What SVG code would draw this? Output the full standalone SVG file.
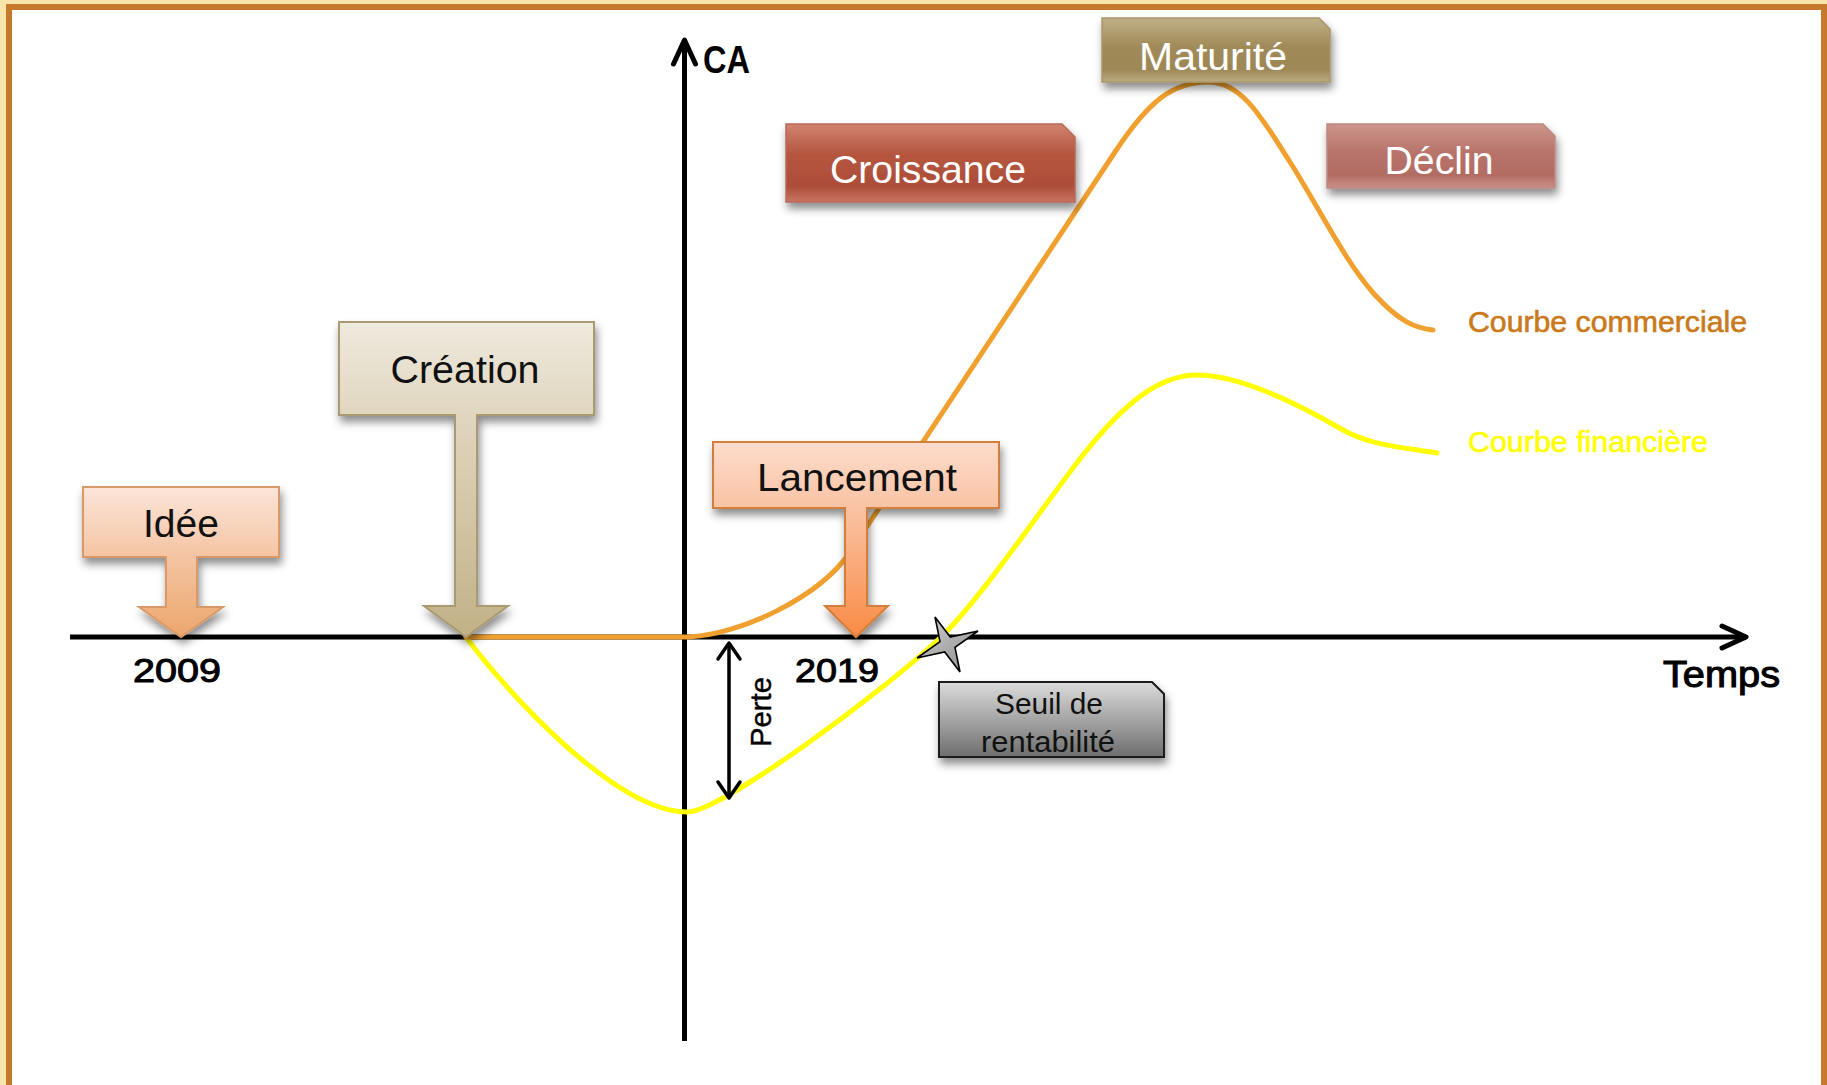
<svg xmlns="http://www.w3.org/2000/svg" width="1827" height="1085" viewBox="0 0 1827 1085">
<style>
text{font-family:"Liberation Sans",Arial,sans-serif;}
.lbl{font-size:39px;fill:#111;text-anchor:middle;}
.wlbl{font-size:39px;fill:#fff;text-anchor:middle;}
.ax{fill:none;stroke:#000;stroke-width:5;}
.crv{fill:none;stroke-width:5;stroke-linecap:round;stroke-linejoin:round;}
.yr{font-size:34px;fill:#000;stroke:#000;stroke-width:1;text-anchor:middle;}
</style>
<defs>
<filter id="sh" x="-20%" y="-20%" width="140%" height="160%">
<feDropShadow dx="2" dy="6" stdDeviation="4" flood-color="#000" flood-opacity="0.45"/>
</filter>
<linearGradient id="gIdee" gradientUnits="userSpaceOnUse" x1="0" y1="487" x2="0" y2="637">
<stop offset="0" stop-color="#fbe5d9"/><stop offset="0.47" stop-color="#f4c4a2"/><stop offset="1" stop-color="#eca66c"/>
</linearGradient>
<linearGradient id="gCrea" gradientUnits="userSpaceOnUse" x1="0" y1="322" x2="0" y2="637">
<stop offset="0" stop-color="#efeade"/><stop offset="0.3" stop-color="#e0d6bf"/><stop offset="1" stop-color="#c2b186"/>
</linearGradient>
<linearGradient id="gLanc" gradientUnits="userSpaceOnUse" x1="0" y1="442" x2="0" y2="637">
<stop offset="0" stop-color="#fddccc"/><stop offset="0.35" stop-color="#f9c2a2"/><stop offset="1" stop-color="#fa8a44"/>
</linearGradient>
<linearGradient id="gCroi" x1="0" y1="0" x2="0" y2="1">
<stop offset="0" stop-color="#d08270"/><stop offset="0.4" stop-color="#b5553e"/><stop offset="0.8" stop-color="#ac4e39"/><stop offset="1" stop-color="#c87463"/>
</linearGradient>
<linearGradient id="gMatu" x1="0" y1="0" x2="0" y2="1">
<stop offset="0" stop-color="#c1b088"/><stop offset="0.45" stop-color="#a08a58"/><stop offset="0.8" stop-color="#9d8756"/><stop offset="1" stop-color="#bcab82"/>
</linearGradient>
<linearGradient id="gDecl" x1="0" y1="0" x2="0" y2="1">
<stop offset="0" stop-color="#cd958c"/><stop offset="0.45" stop-color="#b8736a"/><stop offset="0.8" stop-color="#b26c63"/><stop offset="1" stop-color="#c9908a"/>
</linearGradient>
<linearGradient id="gSeuil" x1="0" y1="0" x2="0" y2="1">
<stop offset="0" stop-color="#dcdcdc"/><stop offset="1" stop-color="#6e6e6e"/>
</linearGradient>
<linearGradient id="gStar" x1="0" y1="0" x2="1" y2="1">
<stop offset="0" stop-color="#d0d0d0"/><stop offset="1" stop-color="#8c8c8c"/>
</linearGradient>
<marker id="chev" markerUnits="userSpaceOnUse" viewBox="-30 -16 36 32" refX="0" refY="0" markerWidth="36" markerHeight="32" orient="auto-start-reverse">
<path d="M-24,-11 L0,0 L-24,11" fill="none" stroke="#000" stroke-width="5" stroke-linecap="round" stroke-linejoin="round"/>
</marker>
<marker id="chevS" markerUnits="userSpaceOnUse" viewBox="-22 -14 28 28" refX="0" refY="0" markerWidth="28" markerHeight="28" orient="auto-start-reverse">
<path d="M-16,-11 L0,0 L-16,11" fill="none" stroke="#000" stroke-width="3.5" stroke-linecap="round" stroke-linejoin="round"/>
</marker>
</defs>

<rect x="0" y="0" width="1827" height="1085" fill="#f6e4ab"/>
<rect x="9" y="7" width="1815" height="1081" fill="#fff" stroke="#c6792d" stroke-width="6"/>

<g id="connectors">
<path class="ax" d="M70,637 H1746" marker-end="url(#chev)"/>
<path class="ax" d="M684.5,1041 V40" marker-end="url(#chev)"/>
<path id="courbe-financiere" class="crv" stroke="#ffff00" d="M466,637 C505,690 615,812 687,812 C720,812 880,695 941,637 C980,600 1040,510 1083,455 C1125,402 1160,375 1197,375 C1240,375 1300,405 1343,430 C1370,445 1400,447 1437,453"/>
<path id="courbe-commerciale" class="crv" stroke="#f0a02e" d="M466,637 L688,637 C740,635 820,597 850,552 L1115,152 C1148,102 1172,82 1208,82 C1242,82 1262,118 1290,162 C1318,206 1345,262 1375,295 C1400,322 1415,328 1433,330"/>
<path id="perte" d="M729,643 V798" fill="none" stroke="#000" stroke-width="3.5" marker-start="url(#chevS)" marker-end="url(#chevS)"/>
</g>

<g id="axis-labels">
<text x="726.5" y="73" style="font-size:38px;font-weight:bold" text-anchor="middle" textLength="47" lengthAdjust="spacingAndGlyphs">CA</text>
<text x="1721.5" y="687" style="font-size:37px;stroke:#000;stroke-width:1.1" text-anchor="middle" textLength="117" lengthAdjust="spacingAndGlyphs">Temps</text>
<text class="yr" x="177" y="682" textLength="88" lengthAdjust="spacingAndGlyphs">2009</text>
<text class="yr" x="837" y="682" textLength="84" lengthAdjust="spacingAndGlyphs">2019</text>
<text transform="translate(771,712) rotate(-90)" style="font-size:29px;stroke:#000;stroke-width:0.4" text-anchor="middle" textLength="70" lengthAdjust="spacingAndGlyphs">Perte</text>
<text x="1468" y="332" style="font-size:29px;fill:#c97a1a;stroke:#c97a1a;stroke-width:0.6" textLength="279" lengthAdjust="spacingAndGlyphs">Courbe commerciale</text>
<text x="1468" y="452" style="font-size:29px;fill:#ffff00;stroke:#ffff00;stroke-width:0.6" textLength="240" lengthAdjust="spacingAndGlyphs">Courbe financière</text>
</g>

<g id="idee">
<path d="M83,487 H279 V557 H197 V607 H223 L181,637 L139,607 H166 V557 H83 Z" fill="url(#gIdee)" stroke="#d99a68" stroke-width="2" filter="url(#sh)"/>
<text class="lbl" x="181" y="537" textLength="76" lengthAdjust="spacingAndGlyphs">Idée</text>
</g>

<g id="creation">
<path d="M339,322 H594 V415 H477 V606 H508 L466,637 L424,606 H455 V415 H339 Z" fill="url(#gCrea)" stroke="#a99a72" stroke-width="2" filter="url(#sh)"/>
<text class="lbl" x="465" y="383" textLength="149" lengthAdjust="spacingAndGlyphs">Création</text>
</g>

<g id="lancement">
<path d="M713,442 H999 V508 H867 V606 H888 L856,637 L825,606 H845 V508 H713 Z" fill="url(#gLanc)" stroke="#d27e3e" stroke-width="2" filter="url(#sh)"/>
<text class="lbl" x="857" y="491" textLength="200" lengthAdjust="spacingAndGlyphs">Lancement</text>
</g>

<g id="croissance">
<path d="M786,124 H1062 L1075,137 V202 H786 Z" fill="url(#gCroi)" stroke="#b86a58" stroke-width="1.5" filter="url(#sh)"/>
<text class="wlbl" x="928" y="183" textLength="196" lengthAdjust="spacingAndGlyphs">Croissance</text>
</g>

<g id="maturite">
<path d="M1102,18 H1319 L1330,29 V82 H1102 Z" fill="url(#gMatu)" stroke="#a8966a" stroke-width="1.5" filter="url(#sh)"/>
<text class="wlbl" x="1213" y="70" textLength="148" lengthAdjust="spacingAndGlyphs">Maturité</text>
</g>

<g id="declin">
<path d="M1327,124 H1543 L1555,136 V188 H1327 Z" fill="url(#gDecl)" stroke="#c08880" stroke-width="1.5" filter="url(#sh)"/>
<text class="wlbl" x="1439" y="174" textLength="109" lengthAdjust="spacingAndGlyphs">Déclin</text>
</g>

<g id="seuil">
<path d="M939,682 H1152 L1164,694 V757 H939 Z" fill="url(#gSeuil)" stroke="#1a1a1a" stroke-width="2" filter="url(#sh)"/>
<text x="1049" y="714" style="font-size:29px;fill:#111" text-anchor="middle" textLength="108" lengthAdjust="spacingAndGlyphs">Seuil de</text>
<text x="1048" y="752" style="font-size:29px;fill:#111" text-anchor="middle" textLength="134" lengthAdjust="spacingAndGlyphs">rentabilité</text>
</g>

<g id="etoile">
<polygon points="935,617 950.3,637 978,631 955,647.3 960,672 944.7,652 917,658 940,641.7" fill="url(#gStar)" stroke="#000" stroke-width="1.6" stroke-linejoin="miter"/>
</g>
</svg>
